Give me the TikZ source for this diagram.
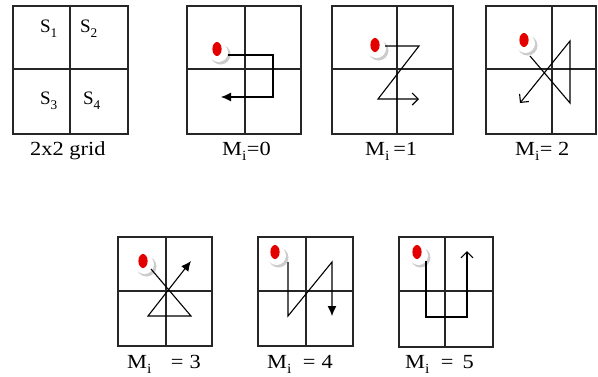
\documentclass[tikz,border=0pt]{standalone}
\usepackage{fontspec}
\setmainfont{Liberation Serif}
\newfontfamily\labfont[FakeStretch=1.12]{Liberation Serif}
\usetikzlibrary{arrows.meta}
\tikzset{
  cell/.style={line width=1.4pt, draw=black!85},
  pathline/.style={line width=1.1pt},
  lbl/.style={font=\labfont\fontsize{20}{24}\selectfont, inner sep=0pt, anchor=base west},
  slbl/.style={font=\fontsize{19}{22}\selectfont, inner sep=0pt},
  filledtip/.style={-{Latex[length=10pt,width=9pt]}},
  opentip/.style={-{Straight Barb[length=6pt,width=12pt]}},
}
\newcommand\gridbox[6]{%
  \draw[cell] (#1,#2) rectangle (#3,#4) (#5,#2) -- (#5,#4) (#1,#6) -- (#3,#6);}
\newcommand\reddot[2]{%
  \fill[gray!40] (#1+3.5,#2+5.5) circle (10);
  \fill[white] (#1+1.5,#2+3.5) circle (9.5);
  \fill[red!90!black] (#1,#2) ellipse (4.6 and 7);}
\newcommand\mi{M\textsubscript{\raisebox{-0.3ex}{i}}}
\begin{document}
\begin{tikzpicture}[x=1pt,y=-1pt]
\useasboundingbox (0,0) rectangle (598,376);
% grid 1
\gridbox{13}{6}{128}{134}{70}{69}
\node[slbl] (s1) at (49,29) {S\textsubscript{\raisebox{-0.4ex}{1}}};
\node[slbl] (s2) at (89,29) {S\textsubscript{\raisebox{-0.4ex}{2}}};
\node[slbl] (s3) at (49,101) {S\textsubscript{\raisebox{-0.4ex}{3}}};
\node[slbl] (s4) at (92,101) {S\textsubscript{\raisebox{-0.4ex}{4}}};
\node[lbl] (l0) at (30,155) {2x2 grid};
% grid 2 : Mi=0
\gridbox{187}{6}{301}{134}{245}{69}
\reddot{217}{49}
\coordinate (a1) at (228,55);
\coordinate (a2) at (273,55);
\coordinate (a3) at (273,97);
\coordinate (a4) at (221,97);
\draw[pathline,filledtip] (a1) -- (a2) -- (a3) -- (a4);
\node[lbl] (l1) at (222,155) {\mi=0};
% grid 3 : Mi=1
\gridbox{332}{6}{453}{134}{397}{69}
\reddot{375}{45}
\coordinate (b1) at (385,46);
\coordinate (b2) at (419,46);
\coordinate (b3) at (378,99);
\coordinate (b4) at (419,99);
\draw[pathline,opentip] (b1) -- (b2) -- (b3) -- (b4);
\node[lbl] (l2) at (365,155) {\mi\,=1};
% grid 4 : Mi=2
\gridbox{486}{6}{596}{134}{552}{69}
\reddot{524}{40}
\coordinate (c1) at (530,56);
\coordinate (c2) at (570,103);
\coordinate (c3) at (570,41);
\coordinate (c4) at (520,103);
\draw[pathline,opentip] (c1) -- (c2) -- (c3) -- (c4);
\node[lbl] (l3) at (515,155) {\mi= 2};
% grid 5 : Mi=3
\gridbox{118}{237}{212}{346}{166}{291}
\reddot{143}{261}
\coordinate (d1) at (151,269);
\coordinate (d2) at (191,316);
\coordinate (d3) at (148,316);
\coordinate (d4) at (191,261);
\draw[pathline,filledtip] (d1) -- (d2) -- (d3) -- (d4);
\node[lbl] (l4) at (127,368) {\mi\hspace{19pt}=\hspace{6pt}3};
% grid 6 : Mi=4
\gridbox{258}{237}{353}{346}{306}{291}
\reddot{275}{252}
\coordinate (e1) at (288,262);
\coordinate (e2) at (288,316);
\coordinate (e3) at (332,262);
\coordinate (e4) at (332,316);
\draw[pathline,filledtip] (e1) -- (e2) -- (e3) -- (e4);
\node[lbl] (l5) at (267,368) {\mi\hspace{11pt}=\hspace{6pt}4};
% grid 7 : Mi=5
\gridbox{399}{237}{493}{347}{445}{291}
\reddot{417}{252}
\coordinate (f1) at (426,261);
\coordinate (f2) at (426,317);
\coordinate (f3) at (467,317);
\coordinate (f4) at (467,251);
\draw[pathline,opentip] (f1) -- (f2) -- (f3) -- (f4);
\node[lbl] (l6) at (405,368) {\mi\hspace{11pt}=\hspace{9pt}5};
\end{tikzpicture}
\end{document}
